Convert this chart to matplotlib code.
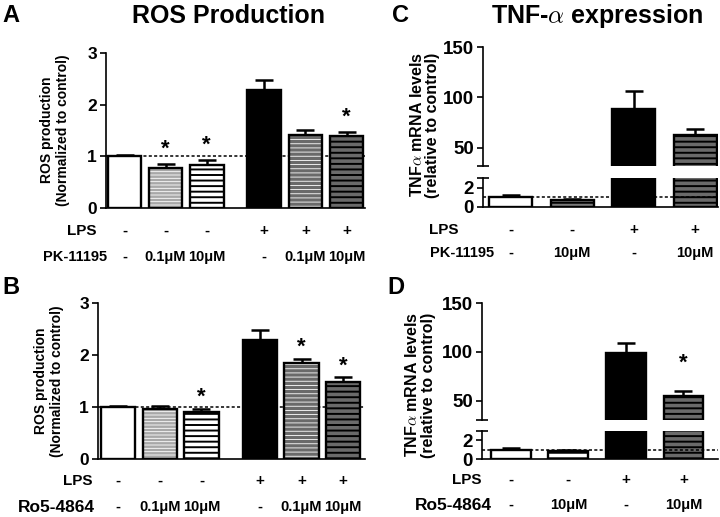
import matplotlib
matplotlib.use('Agg')
import matplotlib.pyplot as plt
import matplotlib.transforms as mtransforms

plt.rcParams['font.family'] = ['Liberation Sans', 'DejaVu Sans']
plt.rcParams['font.weight'] = 'bold'
plt.rcParams['mathtext.fontset'] = 'cm'

# ROS data (panels A, B)
ros_lps = ['-', '-', '-', '+', '+', '+']
ros_dose = ['-', '0.1μM', '10μM', '-', '0.1μM', '10μM']
ros_pk_mean = [1.0, 0.77, 0.83, 2.28, 1.41, 1.39]
ros_pk_err = [0.02, 0.08, 0.10, 0.20, 0.10, 0.09]
ros_pk_sig = [False, True, True, False, False, True]
ros_ro_mean = [1.0, 0.96, 0.90, 2.29, 1.84, 1.48]
ros_ro_err = [0.02, 0.05, 0.07, 0.20, 0.09, 0.09]
ros_ro_sig = [False, False, True, False, True, True]

# TNF-alpha data (panels C, D)
tnf_lps = ['-', '-', '+', '+']
tnf_dose = ['-', '10μM', '-', '10μM']
tnf_pk_mean = [1.0, 0.72, 89.0, 63.0]
tnf_pk_err = [0.2, 0.1, 17.0, 5.5]
tnf_pk_sig = [False, False, False, False]
tnf_ro_mean = [1.0, 0.85, 98.5, 55.0]
tnf_ro_err = [0.15, 0.15, 10.5, 5.0]
tnf_ro_sig = [False, False, False, True]

# bar styles: (face, hatch colour, hatch, hatch linewidth)
ros_styles = [('white', 'white', '', 1), ('#a8a8a8', 'white', '-----', 0.6),
              ('white', 'black', '---', 1.4), ('black', 'black', '', 1),
              ('#6a6a6a', 'white', '----', 0.6), ('#6a6a6a', 'black', '---', 1.4)]
tnf_pk_styles = [('white', 'white', '', 1), ('#7a7a7a', 'black', '---', 1.4),
                 ('black', 'black', '', 1), ('#6a6a6a', 'black', '---', 1.4)]
tnf_ro_styles = [('white', 'white', '', 1), ('white', 'black', '---', 1.4),
                 ('black', 'black', '', 1), ('#6a6a6a', 'black', '---', 1.4)]

W, H = 720, 517
fig = plt.figure(figsize=(7.2, 5.17), dpi=100)


def rect(x0, y_top, x1, y_bot):
    return [x0 / W, 1 - y_bot / H, (x1 - x0) / W, (y_bot - y_top) / H]


def draw_bars(ax, x, mean, err, styles, width):
    for xi, m, (fc, hc, hatch, hlw) in zip(x, mean, styles):
        with plt.rc_context({'hatch.linewidth': hlw}):
            bars = ax.bar(xi, m, width, color=fc, edgecolor=hc, hatch=hatch, linewidth=0, zorder=2)
        for b in bars:
            if hasattr(b, 'set_hatch_linewidth'):
                b.set_hatch_linewidth(hlw)
        ax.bar(xi, m, width, fill=False, edgecolor='black', linewidth=1.7, zorder=3)
    ax.errorbar(x, mean, yerr=[[0] * len(err), err], fmt='none', ecolor='black',
                elinewidth=1.8, capsize=6.5, capthick=1.8, zorder=1.5)


def stars(ax, x, mean, err, sig, offset):
    for xi, m, e, s in zip(x, mean, err, sig):
        if s:
            ax.annotate('*', (xi, m + e), xytext=(0, offset), textcoords='offset pixels',
                        ha='center', va='baseline', fontsize=16, fontweight='bold')


def rows(ax, x, lps, dose, y_lps, y_dose, lps_x, dose_x, dose_name, dose_fs):
    tr = mtransforms.blended_transform_factory(ax.transData, fig.transFigure)
    for xi, a, b in zip(x, lps, dose):
        ax.text(xi, 1 - y_lps / H, a, transform=tr, ha='center', va='center', fontsize=11)
        ax.text(xi, 1 - y_dose / H, b, transform=tr, ha='center', va='center', fontsize=10.5)
    fig.text(lps_x / W, 1 - y_lps / H, 'LPS', ha='right', va='center', fontsize=11)
    fig.text(dose_x / W, 1 - y_dose / H, dose_name, ha='left', va='center', fontsize=dose_fs)


def style_axis(ax, fs=12.5):
    for s in ['top', 'right']:
        ax.spines[s].set_visible(False)
    for s in ['left', 'bottom']:
        ax.spines[s].set_linewidth(1.2)
    ax.tick_params(axis='y', length=4.5, width=1.2, labelsize=fs, pad=2)
    ax.set_xticks([])


def ros_panel(r, xlim, mean, err, sig, star_off, y_lps, y_dose, lps_x, dose_x, dose_name, dose_fs):
    ax = fig.add_axes(r)
    x = [0, 1, 2, 3.4, 4.4, 5.4]
    ax.axhline(1, color='black', linestyle=(0, (2, 1.5)), linewidth=1.1, zorder=1)
    draw_bars(ax, x, mean, err, ros_styles, 0.82)
    stars(ax, x, mean, err, sig, star_off)
    ax.set_xlim(*xlim)
    ax.set_ylim(0, 3)
    ax.set_yticks([0, 1, 2, 3])
    style_axis(ax)
    rows(ax, x, ros_lps, ros_dose, y_lps, y_dose, lps_x, dose_x, dose_name, dose_fs)
    return ax


def tnf_panel(r_top, r_bot, xlim, top_lo, mean, err, sig, styles, width,
              y_lps, y_dose, lps_x, dose_x, dose_name, dose_fs):
    x = [0, 1, 2, 3]
    axt = fig.add_axes(r_top)
    axb = fig.add_axes(r_bot)
    for ax in (axt, axb):
        draw_bars(ax, x, mean, err, styles, width)
        ax.set_xlim(*xlim)
        style_axis(ax, 13.5)
        ax.tick_params(axis='y', which='minor', direction='inout', length=9, width=1.2)
    axb.axhline(1, color='black', linestyle=(0, (2, 1.5)), linewidth=1.1, zorder=4)
    stars(axt, x, mean, err, sig, 22)
    axt.spines['bottom'].set_visible(False)
    axt.set_ylim(top_lo, 150)
    axt.set_yticks([50, 100, 150])
    axt.set_yticks([top_lo], minor=True)
    axb.set_ylim(0, 3)
    axb.set_yticks([0, 2])
    axb.set_yticks([3], minor=True)
    axb.set_yticklabels(['0', '2'])
    rows(axb, x, tnf_lps, tnf_dose, y_lps, y_dose, lps_x, dose_x, dose_name, dose_fs)


# panel A
ros_panel(rect(106, 53, 365, 208), (-0.45, 5.85), ros_pk_mean, ros_pk_err, ros_pk_sig, 9,
          231, 257, 97, 43, 'PK-11195', 10.5)
# panel B
ros_panel(rect(98, 303, 365, 459), (-0.48, 5.92), ros_ro_mean, ros_ro_err, ros_ro_sig, 6,
          481, 507, 92, 18, 'Ro5-4864', 12.5)
# panel C
tnf_panel(rect(483, 47, 718, 166), rect(483, 178, 718, 207), (-0.45, 3.37), 32,
          tnf_pk_mean, tnf_pk_err, tnf_pk_sig, tnf_pk_styles, 0.7,
          230, 253, 458, 430, 'PK-11195', 10.5)
# panel D
tnf_panel(rect(482, 303, 718, 420), rect(482, 431, 718, 459), (-0.5, 3.6), 30,
          tnf_ro_mean, tnf_ro_err, tnf_ro_sig, tnf_ro_styles, 0.69,
          480, 505, 482, 415, 'Ro5-4864', 12.5)

# y labels
fig.text(55 / W, 1 - 130 / H, 'ROS production\n(Normalized to control)', rotation=90,
         ha='center', va='center', fontsize=10, linespacing=1.1)
fig.text(49 / W, 1 - 381 / H, 'ROS production\n(Normalized to control)', rotation=90,
         ha='center', va='center', fontsize=10, linespacing=1.1)
fig.text(425 / W, 1 - 125 / H, 'TNF$\\alpha$ mRNA levels\n(relative to control)', rotation=90,
         ha='center', va='center', fontsize=11.5, linespacing=1.0)
fig.text(420 / W, 1 - 385 / H, 'TNF$\\alpha$ mRNA levels\n(relative to control)', rotation=90,
         ha='center', va='center', fontsize=11.5, linespacing=1.15)

# titles and panel letters
fig.text(229 / W, 1 - 16 / H, 'ROS Production', ha='center', va='center', fontsize=18)
fig.text(597 / W, 1 - 16 / H, 'TNF-$\\alpha$ expression', ha='center', va='center', fontsize=18)
for letter, px, py in [('A', 2, 16), ('B', 2, 287), ('C', 392, 16), ('D', 387, 288)]:
    fig.text(px / W, 1 - py / H, letter, ha='left', va='center', fontsize=17)

fig.savefig('out.png', dpi=100)
